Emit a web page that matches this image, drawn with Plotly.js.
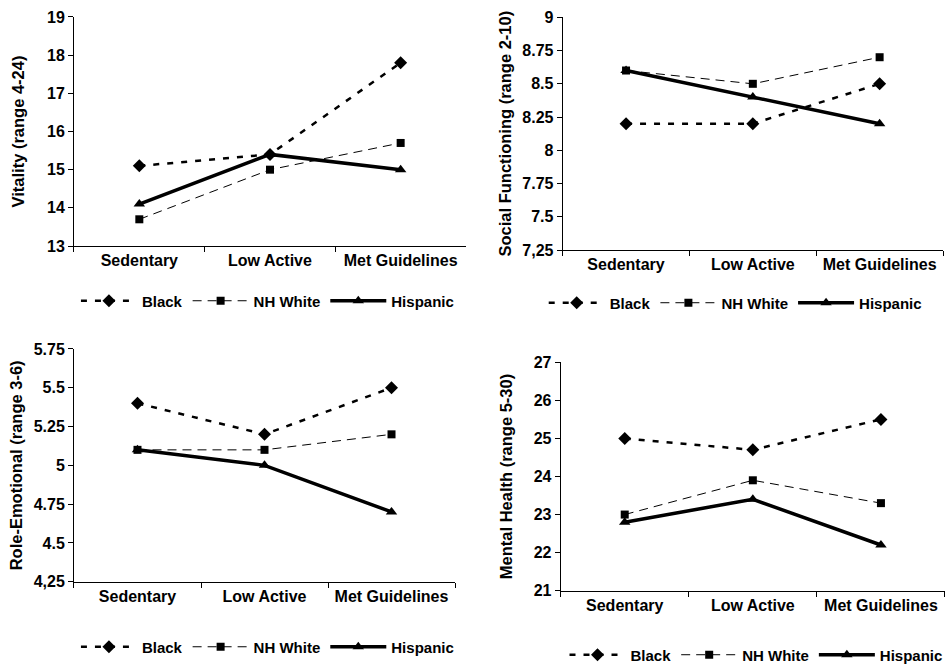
<!DOCTYPE html>
<html>
<head>
<meta charset="utf-8">
<script src="https://cdn.plot.ly/plotly-3.0.1.min.js"></script>
<style>html,body{margin:0;padding:0;background:#fff;}#chart{width:945px;height:664px;}</style>
</head>
<body>
<div id="chart"></div>
<script>
// ---- data ----
var categories = ["Sedentary", "Low Active", "Met Guidelines"];
var groups = ["Black", "NH White", "Hispanic"];

var vitalityBlack = [15.1, 15.4, 17.8];
var vitalityWhite = [13.7, 15.0, 15.7];
var vitalityHispanic = [14.1, 15.4, 15.0];

var socialBlack = [8.2, 8.2, 8.5];
var socialWhite = [8.6, 8.5, 8.7];
var socialHispanic = [8.6, 8.4, 8.2];

var roleBlack = [5.4, 5.2, 5.5];
var roleWhite = [5.1, 5.1, 5.2];
var roleHispanic = [5.1, 5.0, 4.7];

var mentalBlack = [25.0, 24.7, 25.5];
var mentalWhite = [23.0, 23.9, 23.3];
var mentalHispanic = [22.8, 23.4, 22.2];

var vitalityTicks = [13, 14, 15, 16, 17, 18, 19];
var vitalityTickText = ["13", "14", "15", "16", "17", "18", "19"];
var socialTicks = [7.25, 7.5, 7.75, 8, 8.25, 8.5, 8.75, 9];
var socialTickText = ["7,25", "7.5", "7.75", "8", "8.25", "8.5", "8.75", "9"];
var roleTicks = [4.25, 4.5, 4.75, 5, 5.25, 5.5, 5.75];
var roleTickText = ["4,25", "4.5", "4.75", "5", "5.25", "5.5", "5.75"];
var mentalTicks = [21, 22, 23, 24, 25, 26, 27];
var mentalTickText = ["21", "22", "23", "24", "25", "26", "27"];

var titles = ["Vitality (range 4-24)", "Social Functioning (range 2-10)", "Role-Emotional (range 3-6)", "Mental Health (range 5-30)"];

// ---- styles ----
var styles = [
  {line: {color: "#000", width: 2.5, dash: "6px,8px"}, marker: {symbol: "diamond", size: 10, color: "#000"}},
  {line: {color: "#000", width: 1, dash: "9px,6px"}, marker: {symbol: "square", size: 8, color: "#000"}},
  {line: {color: "#000", width: 3.5}, marker: {symbol: "triangle-up", size: 10, color: "#000"}}
];

var panels = [
  {series: [vitalityBlack, vitalityWhite, vitalityHispanic]},
  {series: [socialBlack, socialWhite, socialHispanic]},
  {series: [roleBlack, roleWhite, roleHispanic]},
  {series: [mentalBlack, mentalWhite, mentalHispanic]}
];

var traces = [];
panels.forEach(function (p, i) {
  var n = i === 0 ? "" : String(i + 1);
  p.series.forEach(function (vals, j) {
    traces.push({
      type: "scatter", mode: "lines+markers",
      x: categories, y: vals, name: groups[j],
      xaxis: "x" + n, yaxis: "y" + n,
      legend: "legend" + n,
      line: styles[j].line, marker: styles[j].marker,
      cliponaxis: false
    });
  });
});

var fontFam = "Liberation Sans, Arial, sans-serif";
function xax(domain, anchor) {
  return {
    domain: domain, anchor: anchor, type: "category", range: [-0.5, 2.5],
    showline: true, linecolor: "#000", linewidth: 1,
    ticks: "outside", tickson: "boundaries", ticklen: 5, tickcolor: "#000",
    showgrid: false, zeroline: false,
    tickfont: {family: fontFam, size: 16, color: "#000", weight: "bold"}
  };
}
function yax(domain, anchor, range, tv, tt, title, standoff) {
  return {
    domain: domain, anchor: anchor, range: range,
    tickmode: "array", tickvals: tv, ticktext: tt,
    showline: true, linecolor: "#000", linewidth: 1,
    ticks: "outside", ticklen: 5, tickcolor: "#000",
    showgrid: false, zeroline: false,
    tickfont: {family: fontFam, size: 16, color: "#000", weight: "bold"},
    title: {text: title, font: {family: fontFam, size: 16.5, color: "#000", weight: "bold"}, standoff: standoff}
  };
}
function leg(x, y, yanchor) {
  return {
    orientation: "h", x: x, y: y, xanchor: "center", yanchor: yanchor || "middle",
    xref: "paper", yref: "paper",
    font: {family: fontFam, size: 15, color: "#000", weight: "bold"},
    itemwidth: 56, tracegroupgap: 0, bgcolor: "rgba(0,0,0,0)",
    itemclick: false
  };
}

var layout = {
  width: 945, height: 664,
  margin: {l: 0, r: 0, t: 0, b: 0, autoexpand: false},
  paper_bgcolor: "#fff", plot_bgcolor: "#fff",
  showlegend: true,
  font: {family: fontFam, color: "#000"},
  xaxis: xax([0.0783, 0.4931], "y"),
  yaxis: yax([0.6295, 0.9744], "x", [13, 19], vitalityTicks, vitalityTickText, titles[0], 18),
  xaxis2: xax([0.5954, 0.9979], "y2"),
  yaxis2: yax([0.6235, 0.9739], "x2", [7.25, 9], socialTicks, socialTickText, titles[1], 6),
  xaxis3: xax([0.0783, 0.4815], "y3"),
  yaxis3: yax([0.1239, 0.4744], "x3", [4.25, 5.75], roleTicks, roleTickText, titles[2], 6),
  xaxis4: xax([0.5933, 1.0], "y4"),
  yaxis4: yax([0.1104, 0.4544], "x4", [21, 27], mentalTicks, mentalTickText, titles[3], 16),
  legend: leg(0.283, 0.5467),
  legend2: leg(0.778, 0.5437),
  legend3: leg(0.283, 0.0256),
  legend4: leg(0.80, 0.0136)
};

Plotly.newPlot("chart", traces, layout, {displayModeBar: false, staticPlot: true});
</script>
</body>
</html>
